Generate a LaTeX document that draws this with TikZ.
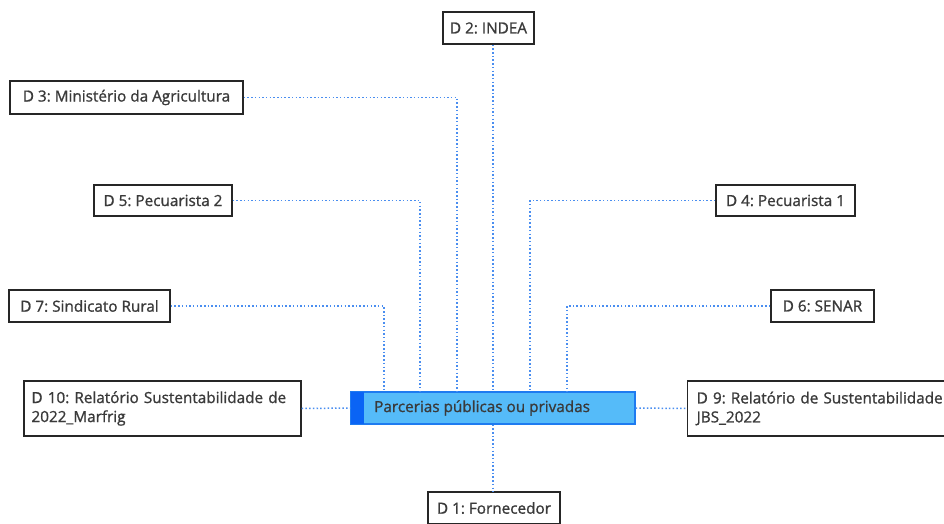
\documentclass[tikz,border=0pt]{standalone}
\usepackage{fontspec}
\setmainfont{Open Sans}
\newfontfamily\boxfont[FakeBold=1.1]{Open Sans}
\usetikzlibrary{calc}
\definecolor{linkblue}{HTML}{4A8EF0}
\definecolor{hubfill}{HTML}{55BBF9}
\definecolor{hubedge}{HTML}{1E7BF0}
\definecolor{hubstrip}{HTML}{0A64F5}
\definecolor{txt}{HTML}{3A3A3A}
\begin{document}
\frenchspacing
\begin{tikzpicture}[x=1pt,y=-1pt,
  doc/.style={draw=black!85,line width=1.4pt,fill=white,text=txt,
    font=\boxfont\fontsize{15.3}{19}\selectfont,inner sep=0pt,anchor=center},
  link/.style={draw=linkblue,line width=1.5pt,dash pattern=on 1.5pt off 2.2pt},
  hub/.style={draw=hubedge,line width=1.3pt,fill=hubfill,text=txt,
    font=\boxfont\fontsize{15.3}{19}\selectfont,inner sep=0pt}]
\useasboundingbox (0,0) rectangle (944,524);
\clip (0,0) rectangle (944,524);

% central topic
\node[hub,minimum width=284pt,minimum height=32pt] (c) at (493,408) {};
\fill[hubstrip] ([xshift=0.65pt,yshift=-0.65pt]c.north west) rectangle ([xshift=14pt,yshift=0.65pt]c.south west);
\node[anchor=west,text=txt,font=\boxfont\fontsize{15.3}{19}\selectfont,inner sep=0pt] (ct) at (374,408) {Parcerias públicas ou privadas};

% documents
\node[doc,minimum width=91pt,minimum height=32pt] (d2) at (488.5,28) {D 2: INDEA};
\node[doc,minimum width=233pt,minimum height=33pt] (d3) at (126.5,97.5) {D 3: Ministério da Agricultura};
\node[doc,minimum width=138pt,minimum height=31pt] (d5) at (163,200.5) {D 5: Pecuarista 2};
\node[doc,minimum width=139pt,minimum height=31pt] (d4) at (785.5,200.5) {D 4: Pecuarista 1};
\node[doc,minimum width=161pt,minimum height=32pt] (d7) at (89.5,306) {D 7: Sindicato Rural};
\node[doc,minimum width=103pt,minimum height=32pt] (d6) at (822.5,306) {D 6: SENAR};
\node[doc,minimum width=277pt,minimum height=55pt,align=left,text width=262pt,inner xsep=7.5pt] (d10) at (162.5,408.5)
  {D 10: Relatório Sustentabilidade de\\2022\_Marfrig};
\node[doc,anchor=west,minimum width=280pt,minimum height=55pt,align=left,text width=262pt,inner xsep=8.5pt] (d9) at (687,408.5)
  {D 9: Relatório de Sustentabilidade\\JBS\_2022};
\node[doc,minimum width=132pt,minimum height=32pt] (d1) at (494,508) {D 1: Fornecedor};

% connectors
\begin{scope}[on background layer/.try]
\draw[link] (d2.south -| c.north) -- (c.north);
\draw[link] (d3.east) -| ([xshift=-36pt]c.north);
\draw[link] (d5.east) -| ([xshift=-73pt]c.north);
\draw[link] (d7.east) -| ([xshift=-109pt]c.north);
\draw[link] (d4.west) -| ([xshift=37pt]c.north);
\draw[link] (d6.west) -| ([xshift=74pt]c.north);
\draw[link] (d10.east) -- (c.west);
\draw[link] (c.east) -- (d9.west);
\draw[link] (c.south) -- (d1.north -| c.south);
\end{scope}
\end{tikzpicture}
\end{document}
